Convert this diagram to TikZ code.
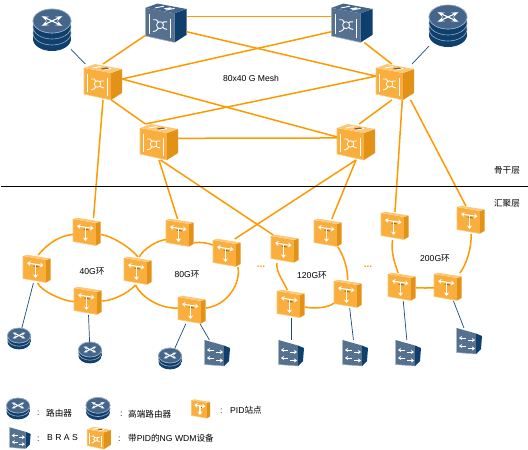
\documentclass[tikz,border=0pt]{standalone}
\usepackage{fontspec}
\setmainfont{Liberation Sans}
\newfontfamily\cjk{Noto Sans CJK SC}
\usepackage{tikz}
\usetikzlibrary{arrows.meta, topaths}

\definecolor{linkorange}{HTML}{FF9900}
\definecolor{linkblue}{HTML}{1B4B7A}
\definecolor{boxfront}{HTML}{F9AE3E}
\definecolor{boxside}{HTML}{E39218}
\definecolor{boxtop}{HTML}{FBC877}
\definecolor{steelfront}{HTML}{56718F}
\definecolor{steelside}{HTML}{0F3F6C}
\definecolor{steeltop}{HTML}{45668A}
\definecolor{steeledge}{HTML}{9DB0C4}

% cube body: front, side, top, spot on the lid, front edge
\newcommand{\drawcube}[5]{
    \fill[#1] (-19,-14) -- (8,-9) -- (8,18) -- (-19,12) -- cycle;
    \fill[#2] (8,-9) -- (19,-13) -- (19,11) -- (8,18) -- cycle;
    \fill[#3] (-19,-14) -- (-8,-18) -- (19,-13) -- (8,-9) -- cycle;
    \draw[#5, line width=.6pt] (-19,-14) -- (-19,12) -- (8,18);
    \draw[white, line width=1.1pt] (-15.5,-8) -- (-15.5,10);
    \draw[white, line width=1.1pt] (4.5,-4) -- (4.5,14);
    \draw[white, line width=.9pt] (-12,-3) -- (-9,-3) -- (-2,5) -- (1,6);
    \draw[white, line width=.9pt] (-12,8) -- (-9,7) -- (-2,-1) -- (1,-1);
    \fill[#1] (-5.5,2) circle[radius=3.2pt];
    \draw[white, line width=.8pt] (-5.5,2) circle[radius=3.2pt];
    \draw[white, line width=.9pt] (-10,-14) -- (-2,-15.5) (0,-12) -- (8,-13.5);
    \fill[#4] (-2,-13.5) -- (4,-14.5) -- (6,-13.5) -- (0,-12.5) -- cycle;
}
% stacked disc: half width, half height of lid, lid y, band gap, bands
\newcommand{\drawdisc}[5]{
    \pgfmathsetmacro{\discbottom}{#3+#4*#5}
    \pgfmathsetmacro{\tiplen}{.35*#1}
    \fill[steelside] (0,\discbottom) circle[x radius=#1pt, y radius=#2pt];
    \fill[steelside] (-#1,#3) rectangle (#1,\discbottom);
    \foreach \band in {1,...,#5} {
        \pgfmathsetmacro{\bandy}{#3+#4*(#5-\band)}
        \draw[steeledge, line width=.6pt, fill=steelside] (0,\bandy) circle[x radius=#1pt, y radius=#2pt];
    }
    \fill[steeltop] (0,#3) circle[x radius=#1pt, y radius=#2pt];
    \draw[steeledge, line width=.6pt] (0,#3) circle[x radius=#1pt, y radius=#2pt];
    \draw[white, line width=1.1pt, {Stealth[length=\tiplen pt]}-{Stealth[length=\tiplen pt]}] (-.55*#1,#3+.4*#2) -- (.55*#1,#3-.4*#2);
    \draw[white, line width=1.1pt, {Stealth[length=\tiplen pt]}-{Stealth[length=\tiplen pt]}] (-.55*#1,#3-.4*#2) -- (.55*#1,#3+.4*#2);
}

\begin{document}
\begin{tikzpicture}[
            x=1pt, y=-1pt,
            >=stealth,
            iconbox/.style={inner sep=0pt, outer sep=0pt, rectangle},
            olink/.style={linkorange, line width=1.5pt},
            blink/.style={linkblue, line width=.7pt},
            lbl/.style={inner sep=0pt, font=\fontsize{8.6}{9}\selectfont},
            keylbl/.style={lbl, anchor=west},
            whitearrow/.style={white, line width=.9pt, -{Stealth[length=3pt, width=4pt]}},
            wdmbox/.pic={
                \node[iconbox, minimum width=38pt, minimum height=36pt] (-c) {};
                \drawcube{boxfront}{boxside}{boxtop}{brown!70!black}{boxtop}
            },
            oxcbox/.pic={
                \node[iconbox, minimum width=41pt, minimum height=39pt] (-c) {};
                \begin{scope}[scale=1.08]
                    \drawcube{steelfront}{steelside}{steeltop}{white}{steeledge}
                \end{scope}
            },
            pidbox/.pic={
                \node[iconbox, minimum width=28pt, minimum height=28pt] (-c) {};
                \fill[boxfront] (-14,-13) -- (9,-9) -- (9,13.5) -- (-14,9.5) -- cycle;
                \fill[boxside] (9,-9) -- (13.5,-10.5) -- (13.5,11) -- (9,13.5) -- cycle;
                \fill[boxtop] (-14,-13) -- (-10,-14.3) -- (13.5,-10.5) -- (9,-9) -- cycle;
                \draw[boxtop, line width=.6pt] (-14,-13) -- (-14,9.5) -- (9,13.5);
                \draw[brown!70!black, line width=.7pt] (-3.5,-3) -- (2,-2);
                \draw[white, line width=1.1pt, {Stealth[length=3.5pt, width=5pt]}-{Stealth[length=3.5pt, width=5pt]}] (-10,-6) -- (6.5,-3.5);
                \draw[white, line width=1.3pt, -{Stealth[length=3.5pt, width=5pt]}] (-1.5,-4.5) -- (-1.5,9);
            },
            brasbox/.pic={
                \node[iconbox, minimum width=25pt, minimum height=26pt] (-c) {};
                \fill[steelfront] (-12.5,-13) -- (7,-7.5) -- (7,13) -- (-12.5,11.5) -- cycle;
                \fill[steelside] (7,-7.5) -- (13,-5) -- (12,8) -- (7,13) -- cycle;
                \draw[steeledge, line width=.5pt] (-12.5,-13) -- (-12.5,11.5) -- (7,13);
                \draw[whitearrow] (-3,-3) -- (-10,-3);
                \draw[whitearrow] (-1,-1) -- (6,-1);
                \draw[whitearrow] (-3,5) -- (-10,5);
                \draw[whitearrow] (-1,7.5) -- (6,7.5);
            },
            routerbox/.pic={
                \node[iconbox, minimum width=23pt, minimum height=22pt] (-c) {};
                \drawdisc{11.5}{7.5}{-3.5}{3.2}{2}
            },
            corebox/.pic={
                \node[iconbox, minimum width=38pt, minimum height=42pt] (-c) {};
                \drawdisc{19}{12}{-9}{6}{3}
            },
        ]
        \useasboundingbox (0,0) rectangle (528,450);

        % Draw the backbone nodes
        \foreach \name / \x / \y in {TL/166/23, TR/352/23}
        \pic (\name) at (\x,\y) {oxcbox};
        \foreach \name / \x / \y in {A/103/82, B/159/142, C/395/82, D/356/142}
        \pic (\name) at (\x,\y) {wdmbox};
        \foreach \name / \x / \y in {HL/52/30, HR/448/26}
        \pic (\name) at (\x,\y) {corebox};

        % Draw the ring sites
        \foreach \name / \x / \y in {P1/87/232, P2/37/269, P3/138/271, P4/88/301, P5/180/233,
                P6/227/253, P7/192/310, P8/285/249, P9/328/233, P10/291/304, P11/348/294,
                P12/395/226, P13/471/220, P14/402/287, P15/448/287}
        \pic (\name) at (\x,\y) {pidbox};

        % Draw the access devices
        \foreach \name / \x / \y in {R1/19/339, R2/90/353, R3/170/359}
        \pic (\name) at (\x,\y) {routerbox};
        \foreach \name / \x / \y in {S1/217/353, S2/291/353, S3/355/353, S4/408/353, S5/469/341}
        \pic (\name) at (\x,\y) {brasbox};

        % Backbone mesh
        \draw[olink] (TL-c.18) -- (TR-c.162);
        \draw[olink] (TL-c.-23) -- (C-c.163);
        \draw[olink] (TR-c.203) -- (A-c.9);
        \draw[olink] (A-c.9) -- (D-c.165);
        \draw[olink] (B-c.127) -- (C-c.163);
        \draw[olink] (B-c.11) -- (D-c.168);
        \draw[olink] (TL-c.211) -- (A-c.90);
        \draw[olink] (TR-c.-58) -- (C-c.100);
        \draw[olink] (A-c.-65) -- (B-c.127);
        \draw[olink] (C-c.-100) -- (D-c.80);

        % Uplinks across the layer line
        \draw[olink] (A-c.-90) -- (P1-c.65);
        \draw[olink] (B-c.-90) -- (P5-c.100);
        \draw[olink] (B-c.-85) -- (P8-c.130);
        \draw[olink] (D-c.-90) -- (P6-c.61);
        \draw[olink] (D-c.-90) -- (P9-c.75);
        \draw[olink] (C-c.-68) -- (P12-c.90);
        \draw[olink] (C-c.-49) -- (P13-c.110);

        % Rings
        \draw[olink] (P1-c.190) .. controls +(-13,1) and +(10,-12) .. (P2-c.85);
        \draw[olink] (P2-c.-88) .. controls +(4,8) and +(-12,-1) .. (P4-c.183);
        \draw[olink] (P4-c.0) .. controls +(10,0) and +(-7,8) .. (P3-c.-100);
        \draw[olink] (P1-c.-10) .. controls +(12,2) and +(-7,-9) .. (P3-c.90);
        \draw[olink] (P3-c.85) .. controls +(4,-8) and +(-9,1) .. (P5-c.205);
        \draw[olink] (P5-c.-35) .. controls +(6,-1) and +(-6,-2) .. (P6-c.150);
        \draw[olink] (P6-c.-52) .. controls +(3,16) and +(22,-3) .. (P7-c.8);
        \draw[olink] (P7-c.172) .. controls +(-16,1) and +(7,14) .. (P3-c.-100);
        \draw[olink] (P8-c.-120) .. controls +(-1,10) and +(-3,-8) .. (P10-c.105);
        \draw[olink] (P9-c.-55) .. controls +(6,8) and +(1,-8) .. (P11-c.92);
        \draw[olink] (P10-c.-12) .. controls +(8,2) and +(-6,5) .. (P11-c.-147);
        \draw[olink] (P12-c.-100) .. controls +(-2,12) and +(-3,-8) .. (P14-c.105);
        \draw[olink] (P13-c.-90) .. controls +(1,14) and +(6,-7) .. (P15-c.50);
        \draw[olink] (P14-c) to[bend right=3] (P15-c);

        % Access links
        \foreach \source / \dest in {HL/A, HR/C, P2/R1, P4/R2, P7/R3, P7/S1, P10/S2, P11/S3, P14/S4, P15/S5}
        \draw[blink] (\source-c) -- (\dest-c);

        % Layer line
        \coordinate (lineL) at (1,186);
        \coordinate (lineR) at (528,186);
        \draw[black, line width=.9pt] (lineL) -- (lineR);

        % Labels
        \node[lbl] (meshlbl) at (251,78) {80x40 G Mesh};
        \node[lbl] (corelbl) at (507,170) {\cjk 骨干层};
        \node[lbl] (edgelbl) at (507,203) {\cjk 汇聚层};
        \foreach \name / \x / \y / \rate in {r40/92/271/40, r80/187/274/80, r120/312/275/120, r200/435/258/200}
        \node[lbl] (\name) at (\x,\y) {\rate G{\cjk 环}};
        \foreach \name / \x in {dotsA/261, dotsB/368}
        \node[lbl, text=linkorange, font=\bfseries\fontsize{10}{10}\selectfont] (\name) at (\x,267) {...};

        % Legend
        \pic (kR) at (18,409) {routerbox};
        \pic[scale=1.05] (kH) at (98,409) {routerbox};
        \pic[scale=.68] (kP) at (201,409) {pidbox};
        \pic[scale=.82] (kS) at (20,438) {brasbox};
        \pic[scale=.62] (kW) at (99,438) {wdmbox};
        \foreach \name / \x / \y in {c1/37/413, c2/120/414, c3/220/411, c4/37/439, c5/118/439}
        \node[keylbl] (\name) at (\x,\y) {:};
        \node[keylbl] (k1) at (46,413) {\cjk 路由器};
        \node[keylbl] (k2) at (128,414) {\cjk 高端路由器};
        \node[keylbl] (k3) at (230,410) {PID{\cjk 站点}};
        \node[keylbl] (k4) at (47,438) {B R A S};
        \node[keylbl] (k5) at (128,438) {{\cjk 带}PID{\cjk 的}NG WDM{\cjk 设备}};
    \end{tikzpicture}
\end{document}
